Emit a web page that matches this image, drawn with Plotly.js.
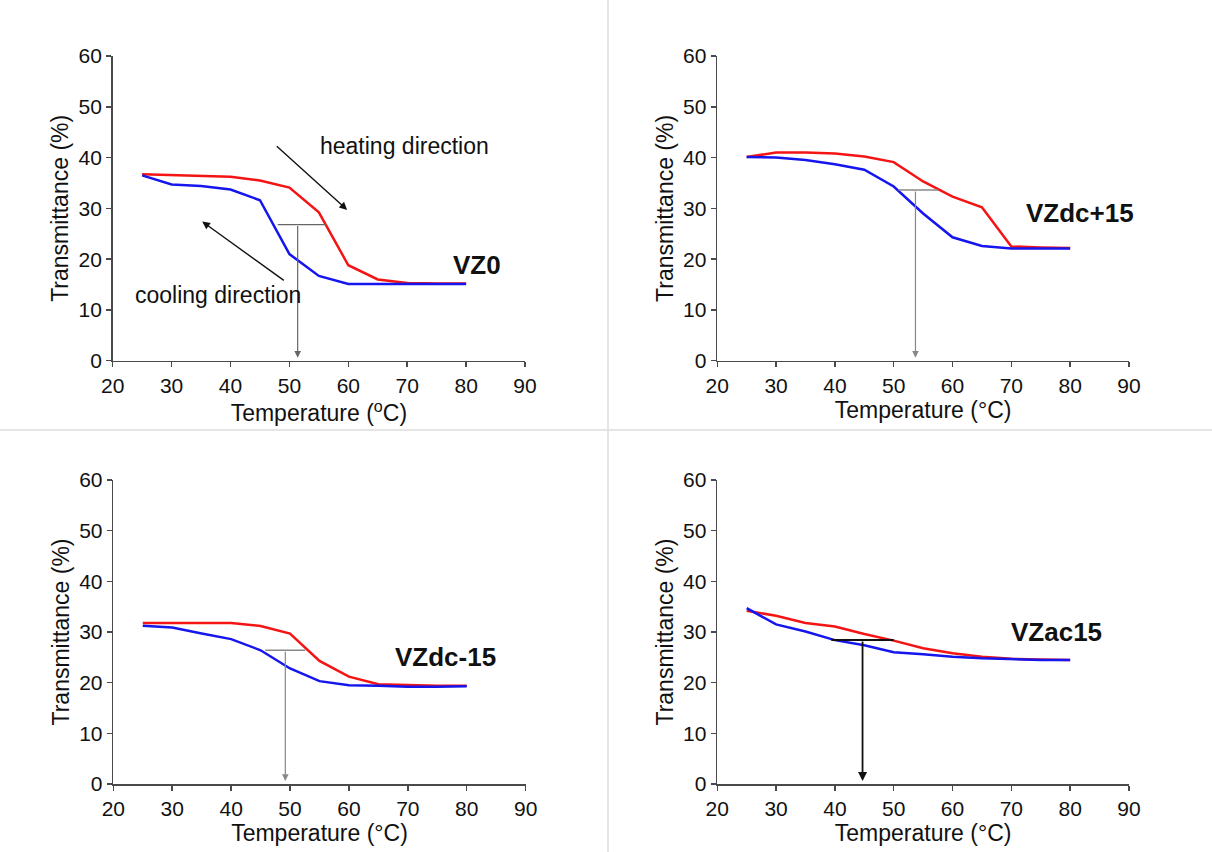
<!DOCTYPE html>
<html>
<head>
<meta charset="utf-8">
<script src="https://cdn.plot.ly/plotly-3.0.1.min.js"></script>
<style>html,body{margin:0;padding:0;background:#fff;}#chart{width:1212px;height:852px;}</style>
</head>
<body>
<div id="chart"></div>
<script>
// ---- data ----
const temps = [25, 30, 35, 40, 45, 50, 55, 60, 65, 70, 75, 80];

const vz0Heating   = [36.7, 36.5, 36.3, 36.2, 35.5, 34.1, 29.2, 18.8, 16.0, 15.3, 15.2, 15.2];
const vz0Cooling   = [36.5, 34.7, 34.4, 33.7, 31.6, 21.0, 16.7, 15.1, 15.1, 15.1, 15.1, 15.1];

const dcp15Heating = [40.1, 41.0, 41.0, 40.8, 40.2, 39.1, 35.3, 32.3, 30.2, 22.5, 22.3, 22.2];
const dcp15Cooling = [40.1, 40.0, 39.5, 38.7, 37.6, 34.3, 29.0, 24.3, 22.6, 22.1, 22.1, 22.1];

const dcm15Heating = [31.8, 31.8, 31.8, 31.8, 31.2, 29.7, 24.3, 21.2, 19.7, 19.5, 19.4, 19.4];
const dcm15Cooling = [31.25, 30.9, 29.7, 28.6, 26.4, 22.8, 20.3, 19.5, 19.4, 19.2, 19.2, 19.3];

const ac15Heating  = [34.2, 33.2, 31.8, 31.1, 29.6, 28.3, 26.8, 25.8, 25.1, 24.7, 24.6, 24.5];
const ac15Cooling  = [34.7, 31.5, 30.1, 28.4, 27.4, 26.0, 25.6, 25.1, 24.8, 24.6, 24.5, 24.5];

const panelLabels = ['VZ0', 'VZdc+15', 'VZdc-15', 'VZac15'];
const labelX = [81.9, 81.6, 76.4, 77.6];
const labelY = [18.8, 29.0, 25.1, 30.1];

// transition temperature construction (half-height line and arrow)
const transT  = [51.4, 53.7, 49.2, 44.7];
const transY  = [26.8, 33.6, 26.4, 28.4];
const transX0 = [48.0, 50.8, 45.8, 39.4];
const transX1 = [56.2, 57.5, 52.6, 50.0];

const xTitles = ['Temperature (<sup>o</sup>C)', 'Temperature (°C)', 'Temperature (°C)', 'Temperature (°C)'];
const yTitle = 'Transmittance (%)';

// ---- build ----
const heatSets = [vz0Heating, dcp15Heating, dcm15Heating, ac15Heating];
const coolSets = [vz0Cooling, dcp15Cooling, dcm15Cooling, ac15Cooling];
const FONT = 'Liberation Sans, Arial, Helvetica, sans-serif';
const RED = '#f41414';
const BLUE = '#1515ee';

const xDomains = [[0.0930, 0.4332], [0.5918, 0.9315], [0.0935, 0.4337], [0.5918, 0.9315]];
const yDomains = [[0.5766, 0.9343], [0.5766, 0.9343], [0.0798, 0.4366], [0.0798, 0.4366]];
const transColor = ['#666', '#888', '#888', '#111'];
const transWidth = [1.4, 1.4, 1.4, 2];

const traces = [];
const layout = {
  width: 1212, height: 852,
  margin: {l: 0, r: 0, t: 0, b: 0},
  paper_bgcolor: '#ffffff', plot_bgcolor: 'rgba(0,0,0,0)',
  showlegend: false, hovermode: false,
  font: {family: FONT, color: '#111'},
  annotations: [], shapes: []
};

for (let i = 0; i < 4; i++) {
  const sfx = i === 0 ? '' : String(i + 1);
  const xa = 'x' + sfx, ya = 'y' + sfx;
  traces.push({x: temps, y: heatSets[i], xaxis: xa, yaxis: ya, type: 'scatter', mode: 'lines',
               line: {color: RED, width: 2.5}});
  traces.push({x: temps, y: coolSets[i], xaxis: xa, yaxis: ya, type: 'scatter', mode: 'lines',
               line: {color: BLUE, width: 2.5}});
  traces.push({x: [transX0[i], transX1[i]], y: [transY[i], transY[i]], xaxis: xa, yaxis: ya,
               type: 'scatter', mode: 'lines', line: {color: transColor[i], width: transWidth[i]}});

  layout['xaxis' + sfx] = {
    domain: xDomains[i], anchor: ya, range: [20, 90], tickvals: [20,30,40,50,60,70,80,90],
    showgrid: false, zeroline: false, showline: true, linecolor: '#4a4a4a', linewidth: 1.6,
    ticks: 'outside', ticklen: 5, tickwidth: 1.5, tickcolor: '#4a4a4a',
    tickfont: {family: FONT, size: 21, color: '#111'},
    title: {text: xTitles[i], font: {family: FONT, size: 23, color: '#111'}, standoff: 5}
  };
  layout['yaxis' + sfx] = {
    domain: yDomains[i], anchor: xa, range: [0, 60], tickvals: [0,10,20,30,40,50,60],
    showgrid: false, zeroline: false, showline: true, linecolor: '#4a4a4a', linewidth: 1.6,
    ticks: 'outside', ticklen: 5, tickwidth: 1.5, tickcolor: '#4a4a4a',
    tickfont: {family: FONT, size: 21, color: '#111'},
    title: {text: yTitle, font: {family: FONT, size: 23, color: '#111'}, standoff: 3}
  };

  // vertical arrow to the transition temperature
  layout.annotations.push({
    xref: xa, yref: ya, axref: xa, ayref: ya,
    x: transT[i], y: 0.6, ax: transT[i], ay: transY[i],
    showarrow: true, arrowhead: 2, arrowsize: i === 3 ? 1 : 1.1, arrowwidth: transWidth[i] - 0.2,
    arrowcolor: transColor[i], text: ''
  });
  // sample label
  layout.annotations.push({
    xref: xa, yref: ya, x: labelX[i], y: labelY[i], showarrow: false,
    text: '<b>' + panelLabels[i] + '</b>', font: {family: FONT, size: 26, color: '#111'}
  });
}

// direction hints on the first panel
layout.annotations.push({xref: 'x', yref: 'y', x: 69.5, y: 42.2, showarrow: false,
  text: 'heating direction', font: {family: FONT, size: 23, color: '#111'}});
layout.annotations.push({xref: 'x', yref: 'y', x: 37.8, y: 12.9, showarrow: false,
  text: 'cooling direction', font: {family: FONT, size: 23, color: '#111'}});
layout.annotations.push({xref: 'x', yref: 'y', axref: 'x', ayref: 'y',
  x: 59.8, y: 29.7, ax: 47.6, ay: 42.5, showarrow: true, arrowhead: 2, arrowsize: 1.1,
  arrowwidth: 1.4, arrowcolor: '#111', text: ''});
layout.annotations.push({xref: 'x', yref: 'y', axref: 'x', ayref: 'y',
  x: 35.2, y: 27.4, ax: 49.3, ay: 15.6, showarrow: true, arrowhead: 2, arrowsize: 1.1,
  arrowwidth: 1.4, arrowcolor: '#111', text: ''});

// panel dividers
layout.shapes.push({type: 'line', xref: 'paper', yref: 'paper', x0: 608/1212, x1: 608/1212, y0: 0, y1: 1,
  line: {color: '#dcdcdc', width: 1.5}});
layout.shapes.push({type: 'line', xref: 'paper', yref: 'paper', x0: 0, x1: 1, y0: 1 - 430/852, y1: 1 - 430/852,
  line: {color: '#dcdcdc', width: 1.5}});

Plotly.newPlot('chart', traces, layout, {staticPlot: true, displayModeBar: false});
</script>
</body>
</html>
